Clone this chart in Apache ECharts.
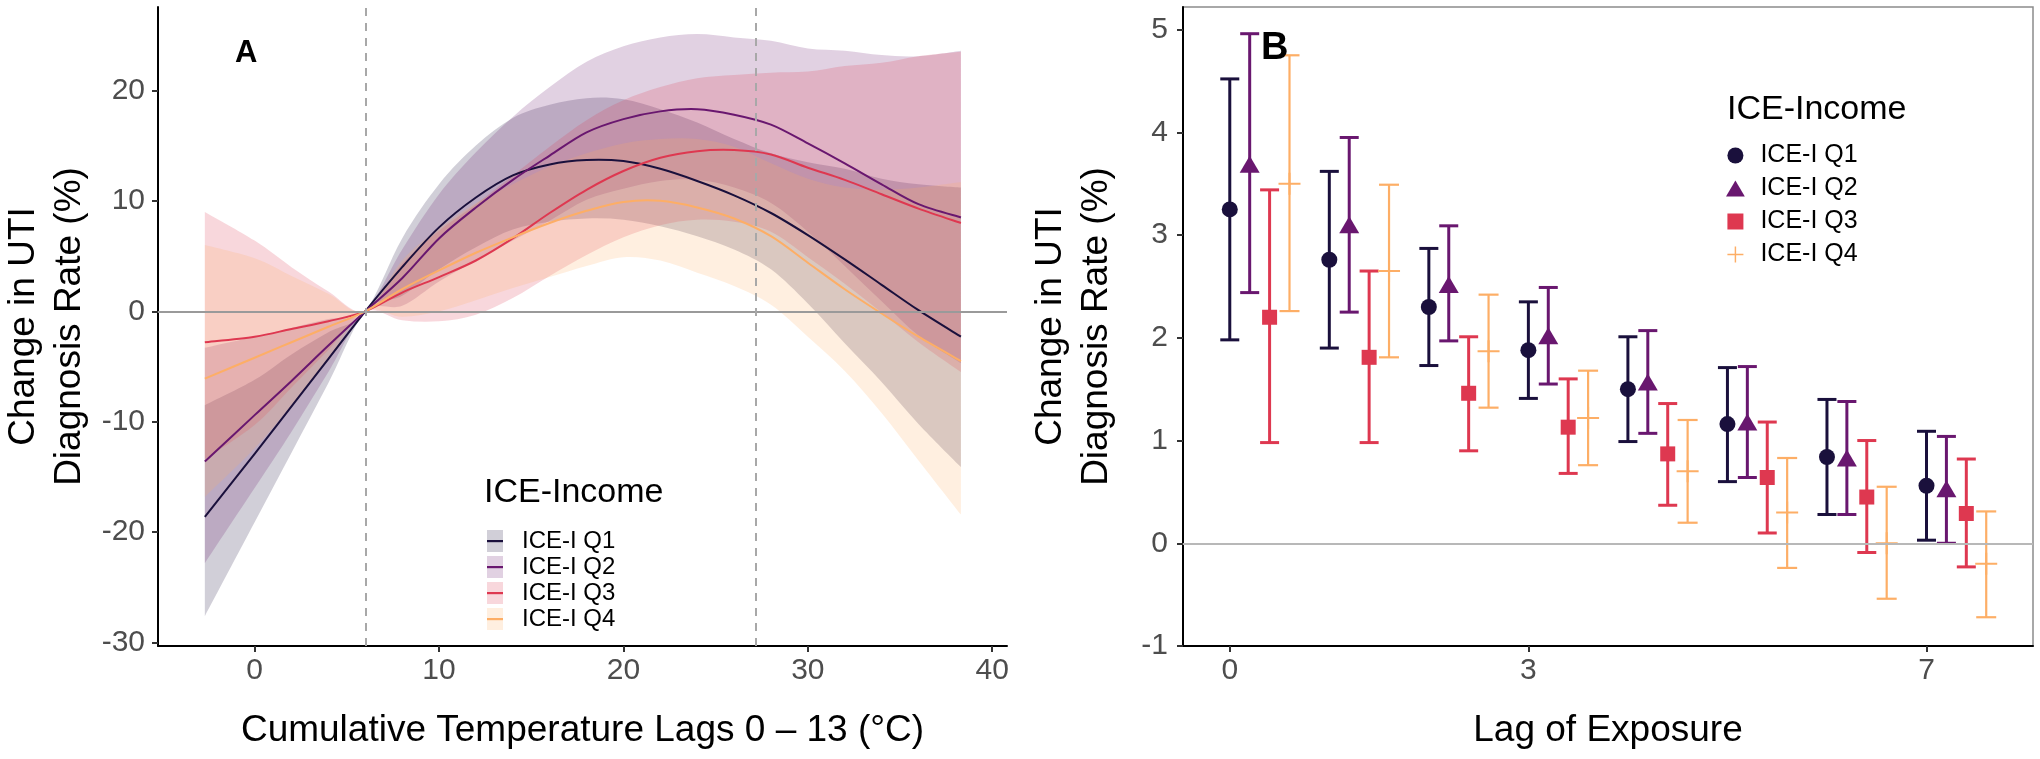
<!doctype html>
<html lang="en">
<head>
<meta charset="UTF-8" />
<title>Change in UTI diagnosis rate by ICE-Income</title>
<script src="https://cdn.jsdelivr.net/npm/echarts@6/dist/echarts.min.js"></script>
<style>
  html, body { margin: 0; padding: 0; background: #fff; }
  #chart { width: 2040px; height: 759px; }
</style>
</head>
<body>
<div id="chart"></div>
<script>
// groups
var groupNames = ['ICE-I Q1', 'ICE-I Q2', 'ICE-I Q3', 'ICE-I Q4'];
var lineColors = ['#1a103c', '#69176f', '#de3850', '#fdae66'];
var fillColors = ['rgba(26,16,60,0.2)', 'rgba(105,23,111,0.2)', 'rgba(222,56,80,0.2)', 'rgba(253,174,102,0.2)'];

// panel A: cumulative temperature (°C) vs change (%)
var tempX = [-2.7, 0, 2, 4, 6, 8, 10, 12, 14, 16, 18, 20, 22, 24, 26, 28, 30, 32, 34, 36, 38.3];
var refTemps = [6.0, 27.2];

var q1Est  = [-18.6, -12.9, -8.6, -4.3, 0, 4.0, 7.6, 10.3, 12.3, 13.3, 13.7, 13.6, 12.9, 11.8, 10.5, 8.9, 6.9, 4.7, 2.4, 0.1, -2.3];
var q1Low  = [-27.6, -19.1, -12.8, -6.5, 0, 1.4, 3.8, 5.8, 7.4, 8.1, 8.4, 8.3, 7.7, 6.8, 5.6, 3.8, 0.7, -2.9, -6.4, -10.2, -14.1];
var q1High = [-8.5, -6.2, -3.9, -1.9, 0, 6.6, 11.5, 15.0, 17.5, 18.7, 19.3, 19.2, 18.3, 17.1, 15.6, 14.3, 13.5, 12.9, 12.0, 11.5, 11.2];

var q2Est  = [-13.6, -9.4, -6.3, -3.1, 0, 3.0, 6.6, 9.4, 11.9, 14.1, 16.2, 17.4, 18.1, 18.3, 17.8, 16.9, 15.2, 13.4, 11.5, 9.7, 8.5];
var q2Low  = [-22.8, -16.0, -10.9, -5.5, 0, 0.5, 2.7, 4.6, 6.4, 8.2, 10.1, 11.1, 11.8, 11.9, 11.2, 9.8, 7.2, 4.1, 0.9, -2.2, -4.7];
var q2High = [-3.3, -2.3, -1.5, -0.7, 0, 5.6, 10.6, 14.4, 17.6, 20.3, 22.6, 24.0, 24.8, 25.1, 24.8, 24.5, 23.8, 23.6, 23.2, 23.1, 23.6];

var q3Est  = [-2.8, -2.3, -1.6, -0.9, 0, 1.7, 3.1, 4.6, 6.6, 8.9, 11.0, 12.7, 13.9, 14.5, 14.6, 14.2, 13.0, 11.9, 10.6, 9.3, 8.0];
var q3Low  = [-13.4, -10.3, -6.9, -3.5, 0, -0.8, -0.9, -0.3, 1.2, 3.2, 5.1, 6.7, 7.8, 8.3, 8.1, 7.2, 4.9, 2.5, -0.1, -2.8, -5.5];
var q3High = [9.0, 6.4, 4.0, 1.8, 0, 4.3, 7.3, 9.7, 12.3, 14.9, 17.3, 19.1, 20.3, 21.1, 21.4, 21.6, 21.7, 22.2, 22.5, 23.1, 23.5];

var q4Est  = [-6.1, -4.2, -2.8, -1.4, 0, 2.0, 3.7, 5.3, 6.7, 8.0, 9.1, 9.9, 10.0, 9.4, 8.4, 6.8, 4.4, 2.0, -0.2, -2.3, -4.5];
var q4Low  = [-16.8, -12.4, -8.5, -4.3, 0, -0.5, 0.0, 1.0, 2.1, 3.1, 4.1, 4.9, 4.6, 3.5, 2.3, 0.6, -2.3, -5.4, -9.2, -13.5, -18.4];
var q4High = [6.0, 4.8, 3.2, 1.6, 0, 4.6, 7.5, 9.8, 11.5, 13.1, 14.3, 15.2, 15.6, 15.6, 14.9, 13.4, 12.0, 11.2, 11.0, 11.2, 11.7];

var xTicksA = [0, 10, 20, 30, 40];
var yTicksA = [-30, -20, -10, 0, 10, 20];

// panel B: lag of exposure vs change (%)
var lags = [0, 1, 2, 3, 4, 5, 6, 7];
var dodge = [0, 0.2, 0.4, 0.6];

var lagQ1Est  = [3.25, 2.76, 2.30, 1.88, 1.50, 1.16, 0.84, 0.56];
var lagQ1Low  = [1.98, 1.90, 1.73, 1.41, 0.99, 0.60, 0.28, 0.03];
var lagQ1High = [4.52, 3.62, 2.87, 2.35, 2.01, 1.71, 1.40, 1.09];

var lagQ2Est  = [3.69, 3.10, 2.52, 2.02, 1.57, 1.18, 0.83, 0.53];
var lagQ2Low  = [2.44, 2.25, 1.97, 1.55, 1.07, 0.64, 0.28, 0.00];
var lagQ2High = [4.96, 3.95, 3.09, 2.49, 2.07, 1.72, 1.38, 1.04];

var lagQ3Est  = [2.20, 1.81, 1.46, 1.13, 0.87, 0.64, 0.45, 0.29];
var lagQ3Low  = [0.98, 0.98, 0.90, 0.68, 0.37, 0.10, -0.09, -0.23];
var lagQ3High = [3.44, 2.65, 2.01, 1.60, 1.36, 1.18, 1.00, 0.82];

var lagQ4Est  = [3.50, 2.65, 1.87, 1.22, 0.70, 0.30, 0.00, -0.20];
var lagQ4Low  = [2.26, 1.81, 1.32, 0.76, 0.20, -0.24, -0.54, -0.72];
var lagQ4High = [4.75, 3.49, 2.42, 1.68, 1.20, 0.83, 0.55, 0.31];

var xTicksB = [0, 3, 7];
var yTicksB = [-1, 0, 1, 2, 3, 4, 5];

var FONT = '"Liberation Sans", Arial, Helvetica, sans-serif';

var estA = [q1Est, q2Est, q3Est, q4Est];
var lowA = [q1Low, q2Low, q3Low, q4Low];
var highA = [q1High, q2High, q3High, q4High];
var estB = [lagQ1Est, lagQ2Est, lagQ3Est, lagQ4Est];
var lowB = [lagQ1Low, lagQ2Low, lagQ3Low, lagQ4Low];
var highB = [lagQ1High, lagQ2High, lagQ3High, lagQ4High];

var plusPath = 'path://M0,10H22V12H0Z M10,0H12V22H10Z';
var markerSymbols = ['circle', 'triangle', 'rect', plusPath];
var markerSizes = [16, [20, 17], 15, [22, 22]];

// legend key for panel A: ribbon fill with line across
function keyIcon(fill, stroke) {
    var svg = "<svg xmlns='http://www.w3.org/2000/svg' width='16' height='22'>" +
        "<rect width='16' height='22' fill='" + fill + "'/>" +
        "<rect y='10' width='16' height='2.2' fill='" + stroke + "'/></svg>";
    return 'image://data:image/svg+xml;charset=utf-8,' + encodeURIComponent(svg);
}

// catmull-rom through pixel points, as cubic bezier path commands
function smoothPath(pts, start) {
    var d = (start ? 'M' : 'L') + pts[0][0] + ',' + pts[0][1];
    for (var i = 0; i < pts.length - 1; i++) {
        var p0 = pts[i - 1] || pts[i], p1 = pts[i], p2 = pts[i + 1], p3 = pts[i + 2] || pts[i + 1];
        var c1 = [p1[0] + (p2[0] - p0[0]) / 6, p1[1] + (p2[1] - p0[1]) / 6];
        var c2 = [p2[0] - (p3[0] - p1[0]) / 6, p2[1] - (p3[1] - p1[1]) / 6];
        d += 'C' + c1[0] + ',' + c1[1] + ' ' + c2[0] + ',' + c2[1] + ' ' + p2[0] + ',' + p2[1];
    }
    return d;
}

// confidence ribbon for one group
function ribbon(g) {
    return function (params, api) {
        if (params.dataIndex !== 0) return;
        var up = tempX.map(function (x, i) { return api.coord([x, highA[g][i]]); });
        var lo = tempX.map(function (x, i) { return api.coord([x, lowA[g][i]]); }).reverse();
        return {
            type: 'path',
            shape: { pathData: smoothPath(up, true) + smoothPath(lo, false) + 'Z' },
            style: { fill: fillColors[g] }
        };
    };
}

// estimate curve for one group (same smoothing as the ribbons)
function curve(g) {
    return function (params, api) {
        if (params.dataIndex !== 0) return;
        var pts = tempX.map(function (x, i) { return api.coord([x, estA[g][i]]); });
        return {
            type: 'path',
            shape: { pathData: smoothPath(pts, true) },
            style: { fill: null, stroke: lineColors[g], lineWidth: 2 }
        };
    };
}

// error bar with caps
function errorBar(color, width, capW) {
    return function (params, api) {
        var x = api.value(0);
        var pLo = api.coord([x, api.value(1)]);
        var pHi = api.coord([x, api.value(2)]);
        var style = { stroke: color, lineWidth: width };
        return {
            type: 'group',
            children: [
                { type: 'line', shape: { x1: pLo[0], y1: pLo[1], x2: pHi[0], y2: pHi[1] }, style: style },
                { type: 'line', shape: { x1: pHi[0] - capW / 2, y1: pHi[1], x2: pHi[0] + capW / 2, y2: pHi[1] }, style: style },
                { type: 'line', shape: { x1: pLo[0] - capW / 2, y1: pLo[1], x2: pLo[0] + capW / 2, y2: pLo[1] }, style: style }
            ]
        };
    };
}

var series = [];

// ribbons
for (var g = 0; g < 4; g++) {
    var rib = {
        type: 'custom', xAxisIndex: 0, yAxisIndex: 0, silent: true,
        data: tempX.map(function (x, i) { return [x, lowA[g][i], highA[g][i]]; }),
        encode: { x: 0, y: [1, 2] },
        renderItem: ribbon(g)
    };
    if (g === 0) {
        rib.markLine = {
            silent: true, symbol: 'none', label: { show: false },
            data: [
                { yAxis: 0, lineStyle: { color: '#9a9a9a', width: 2, type: 'solid' } },
                { xAxis: refTemps[0], lineStyle: { color: '#a8a8a8', width: 2, type: [8, 7] } },
                { xAxis: refTemps[1], lineStyle: { color: '#a8a8a8', width: 2, type: [8, 7] } }
            ]
        };
    }
    series.push(rib);
}

// estimate lines
for (var g = 0; g < 4; g++) {
    series.push({
        type: 'custom', name: groupNames[g], xAxisIndex: 0, yAxisIndex: 0, silent: true,
        data: tempX.map(function (x, i) { return [x, estA[g][i]]; }),
        encode: { x: 0, y: 1 },
        itemStyle: { color: lineColors[g] },
        renderItem: curve(g)
    });
}

// panel B: error bars + points
for (var g = 0; g < 4; g++) {
    var bars = {
        type: 'custom', xAxisIndex: 1, yAxisIndex: 1, silent: true,
        data: lags.map(function (l, i) { return [l + dodge[g], lowB[g][i], highB[g][i]]; }),
        encode: { x: 0, y: [1, 2] },
        renderItem: errorBar(lineColors[g], g === 3 ? 2.2 : 3, g === 3 ? 20 : 19)
    };
    if (g === 0) {
        bars.markLine = {
            silent: true, symbol: 'none', label: { show: false },
            data: [{ yAxis: 0, lineStyle: { color: '#b8b8b8', width: 2, type: 'solid' } }]
        };
    }
    series.push(bars);
    series.push({
        type: 'scatter', name: groupNames[g], xAxisIndex: 1, yAxisIndex: 1,
        data: lags.map(function (l, i) { return [l + dodge[g], estB[g][i]]; }),
        symbol: markerSymbols[g], symbolSize: markerSizes[g],
        itemStyle: { color: lineColors[g], opacity: 1 }
    });
}

var axisLineStyle = { color: '#000', width: 2 };
var tickStyle = { color: '#333', width: 2 };
var labelStyle = { fontSize: 30, color: '#4d4d4d', fontFamily: FONT };
var nameStyle = { fontSize: 37, color: '#000', fontFamily: FONT, lineHeight: 46 };

var option = {
    animation: false,
    backgroundColor: '#fff',
    textStyle: { fontFamily: FONT },
    title: [
        { text: 'A', left: 235, top: 38, padding: 0, textStyle: { fontSize: 31, fontWeight: 'bold', color: '#000', fontFamily: FONT } },
        { text: 'B', left: 1261, top: 30, padding: 0, textStyle: { fontSize: 38, fontWeight: 'bold', color: '#000', fontFamily: FONT } },
        { text: 'ICE-Income', left: 484, top: 476, padding: 0, textStyle: { fontSize: 34, fontWeight: 'normal', color: '#000', fontFamily: FONT } },
        { text: 'ICE-Income', left: 1727, top: 93, padding: 0, textStyle: { fontSize: 34, fontWeight: 'normal', color: '#000', fontFamily: FONT } }
    ],
    legend: [
        {
            orient: 'vertical', left: 487, top: 529, padding: 0,
            itemWidth: 16, itemHeight: 22, itemGap: 2,
            selectedMode: false,
            textStyle: { fontSize: 24, color: '#000', fontFamily: FONT, padding: [0, 0, 0, 14] },
            data: groupNames.map(function (n, g) {
                return { name: n, icon: keyIcon(fillColors[g], lineColors[g]) };
            })
        },
        {
            orient: 'vertical', left: 1726, top: 143, padding: 0,
            itemWidth: 20, itemHeight: 16, itemGap: 8,
            selectedMode: false,
            textStyle: { fontSize: 25, color: '#000', fontFamily: FONT, padding: [0, 0, 0, 10] },
            data: groupNames.map(function (n, g) {
                var icons = ['circle', 'path://M5,0L10,8.5L0,8.5Z', 'path://M0,0H10V10H0Z', 'path://M0,10H22V12H0Z M10,0H12V22H10Z'];
                return { name: n, icon: icons[g], itemStyle: { color: lineColors[g] } };
            })
        }
    ],
    grid: [
        { left: 155, top: 7, width: 852, height: 641 },
        { left: 1183, top: 7, width: 850, height: 641, show: true, borderColor: '#8c8c8c', borderWidth: 1.5 }
    ],
    xAxis: [
        {
            type: 'value', gridIndex: 0, min: -5.24, max: 40.8,
            splitLine: { show: false },
            axisLine: { show: true, onZero: false, lineStyle: axisLineStyle },
            axisTick: { show: true, customValues: xTicksA, length: 6, lineStyle: tickStyle },
            axisLabel: Object.assign({ customValues: xTicksA, margin: 10 }, labelStyle),
            name: 'Cumulative Temperature Lags 0 \u2013 13 (\u00b0C)',
            nameLocation: 'middle', nameGap: 62, nameTextStyle: nameStyle
        },
        {
            type: 'value', gridIndex: 1, min: -0.47, max: 8.07,
            splitLine: { show: false },
            axisLine: { show: true, onZero: false, lineStyle: axisLineStyle },
            axisTick: { show: true, customValues: xTicksB, length: 6, lineStyle: tickStyle },
            axisLabel: Object.assign({ customValues: xTicksB, margin: 10 }, labelStyle),
            name: 'Lag of Exposure',
            nameLocation: 'middle', nameGap: 62, nameTextStyle: nameStyle
        }
    ],
    yAxis: [
        {
            type: 'value', gridIndex: 0, min: -30.3, max: 27.55,
            splitLine: { show: false },
            axisLine: { show: true, onZero: false, lineStyle: axisLineStyle },
            axisTick: { show: true, customValues: yTicksA, length: 6, lineStyle: tickStyle },
            axisLabel: Object.assign({ customValues: yTicksA, margin: 13 }, labelStyle),
            name: 'Change in UTI\nDiagnosis Rate (%)',
            nameLocation: 'middle', nameRotate: 90, nameGap: 65, nameTextStyle: nameStyle
        },
        {
            type: 'value', gridIndex: 1, min: -1, max: 5.22,
            splitLine: { show: false },
            axisLine: { show: true, onZero: false, lineStyle: axisLineStyle },
            axisTick: { show: true, customValues: yTicksB, length: 6, lineStyle: tickStyle },
            axisLabel: Object.assign({ customValues: yTicksB, margin: 15 }, labelStyle),
            name: 'Change in UTI\nDiagnosis Rate (%)',
            nameLocation: 'middle', nameRotate: 90, nameGap: 63, nameTextStyle: nameStyle
        }
    ],
    series: series
};

var chart = echarts.init(document.getElementById('chart'), null, { renderer: 'canvas' });
chart.setOption(option);

window.onresize = function () {
    chart.resize();
};
</script>
</body>
</html>
